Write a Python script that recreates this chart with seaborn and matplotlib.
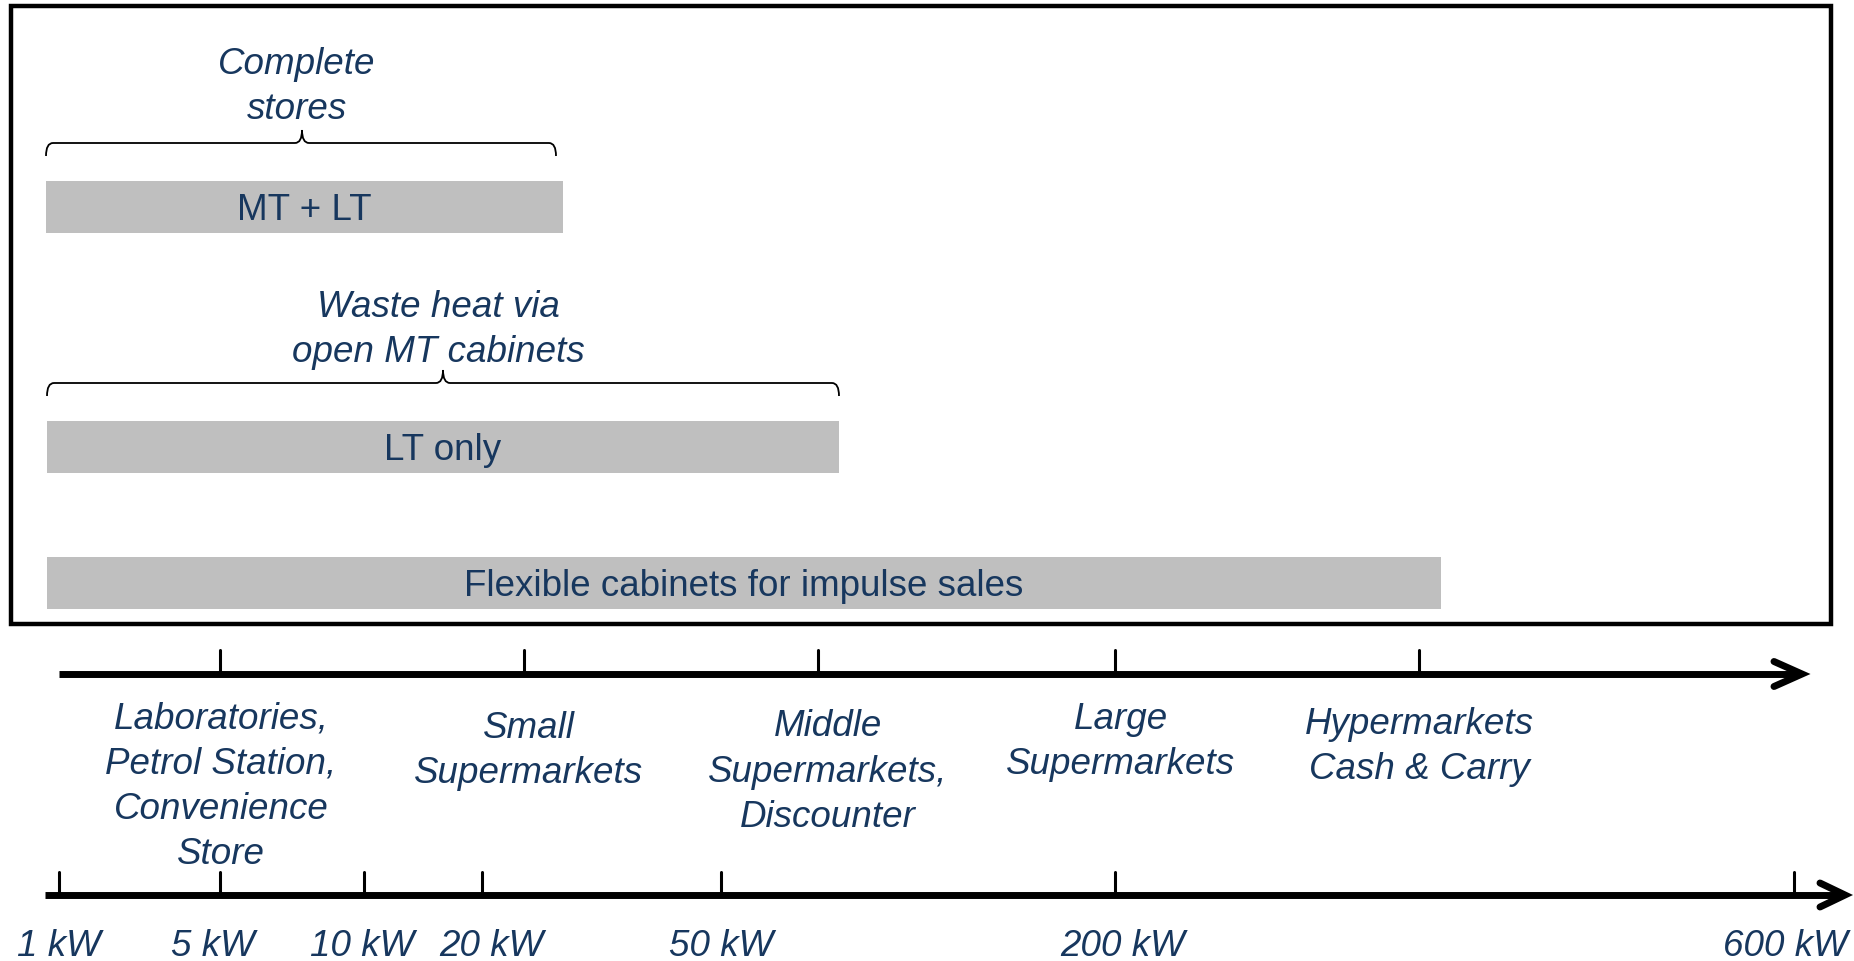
import matplotlib
matplotlib.use("Agg")
import matplotlib.pyplot as plt
from matplotlib.path import Path
from matplotlib.patches import PathPatch, Rectangle
import seaborn as sns

sns.set_style("white")
plt.rcParams['font.family'] = ['Liberation Sans', 'DejaVu Sans']

# schematic size axis runs 0..1854 from left to right, rows run 0..961 from top
bar_labels = ["MT + LT", "LT only", "Flexible cabinets for impulse sales"]
bar_start = [46, 47, 47]
bar_end = [563, 839, 1441]
bar_row = [206.5, 447, 583]

brace_labels = ["Complete\nstores", "Waste heat via\nopen MT cabinets"]
brace_start = [46, 47]
brace_end = [556, 839]
brace_mid = [302, 443]
brace_row = [143, 383]
brace_text_row = [87, 330]

store_labels = ["Laboratories,\nPetrol Station,\nConvenience\nStore",
                "Small\nSupermarkets",
                "Middle\nSupermarkets,\nDiscounter",
                "Large\nSupermarkets",
                "Hypermarkets\nCash & Carry"]
store_pos = [220, 524, 818, 1115, 1419]
store_text_x = [221, 529, 828, 1121, 1419]
store_text_y = [787, 751, 772, 742, 747]

kw_labels = ["1 kW", "5 kW", "10 kW", "20 kW", "50 kW", "200 kW", "600 kW"]
kw_pos = [59, 220, 364, 482, 721, 1115, 1794]
kw_text_x = [59, 213, 362, 491, 721, 1123, 1785]

navy = "#17375E"
grey = "#BFBFBF"

fig = plt.figure(figsize=(18.54, 9.61), dpi=100)
ax = fig.add_axes([0, 0, 1, 1])
ax.set_xlim(0, 1854)
ax.set_ylim(961, 0)
ax.axis("off")

# frame round the bars
ax.add_patch(Rectangle((11, 6), 1820, 618, fill=False, edgecolor="black", lw=3.2))

# bars
widths = [e - s for s, e in zip(bar_start, bar_end)]
ax.barh(bar_row, widths, left=bar_start, height=52, color=grey, edgecolor="none")
for lab, s, e, r in zip(bar_labels, bar_start, bar_end, bar_row):
    ax.text((s + e) / 2, r + 4, lab, ha="center", va="center", fontsize=26.5, color=navy)

# curly braces
for lab, s, e, m, r, tr in zip(brace_labels, brace_start, brace_end, brace_mid, brace_row, brace_text_row):
    d = 13   # depth of end hooks / peak
    c = 7    # corner radius
    verts = [(s, r + d), (s, r), (s + c, r),
             (m - c, r), (m, r), (m, r - d),
             (m, r), (m + c, r),
             (e - c, r), (e, r), (e, r + d)]
    codes = [Path.MOVETO, Path.CURVE3, Path.CURVE3,
             Path.LINETO, Path.CURVE3, Path.CURVE3,
             Path.CURVE3, Path.CURVE3,
             Path.LINETO, Path.CURVE3, Path.CURVE3]
    ax.add_patch(PathPatch(Path(verts, codes), fill=False, edgecolor="black", lw=1.3))
    ax.text(m - 5, tr, lab, ha="center", va="center", fontsize=26.5, style="italic",
            color=navy, linespacing=1.38)


def arrow(x0, x1, y, head_len, head_half):
    ax.plot([x0, x1 - 3], [y, y], color="black", lw=5, solid_capstyle="butt")
    ax.plot([x1 - head_len, x1, x1 - head_len], [y - head_half, y, y + head_half],
            color="black", lw=5, solid_capstyle="round", solid_joinstyle="miter")


# store type axis
arrow(59, 1802, 674, 28, 12.5)
for p in store_pos:
    ax.plot([p, p], [650, 674], color="black", lw=2.2)
for lab, x, y in zip(store_labels, store_text_x, store_text_y):
    ax.text(x, y, lab, ha="center", va="center", fontsize=26.5, style="italic",
            color=navy, linespacing=1.38)

# power axis
arrow(45, 1845, 895, 25, 12)
for p in kw_pos:
    ax.plot([p, p], [872, 895], color="black", lw=2.2)
for lab, x in zip(kw_labels, kw_text_x):
    ax.text(x, 946, lab, ha="center", va="center", fontsize=26.5, style="italic", color=navy)

fig.savefig("out.png", dpi=100)
